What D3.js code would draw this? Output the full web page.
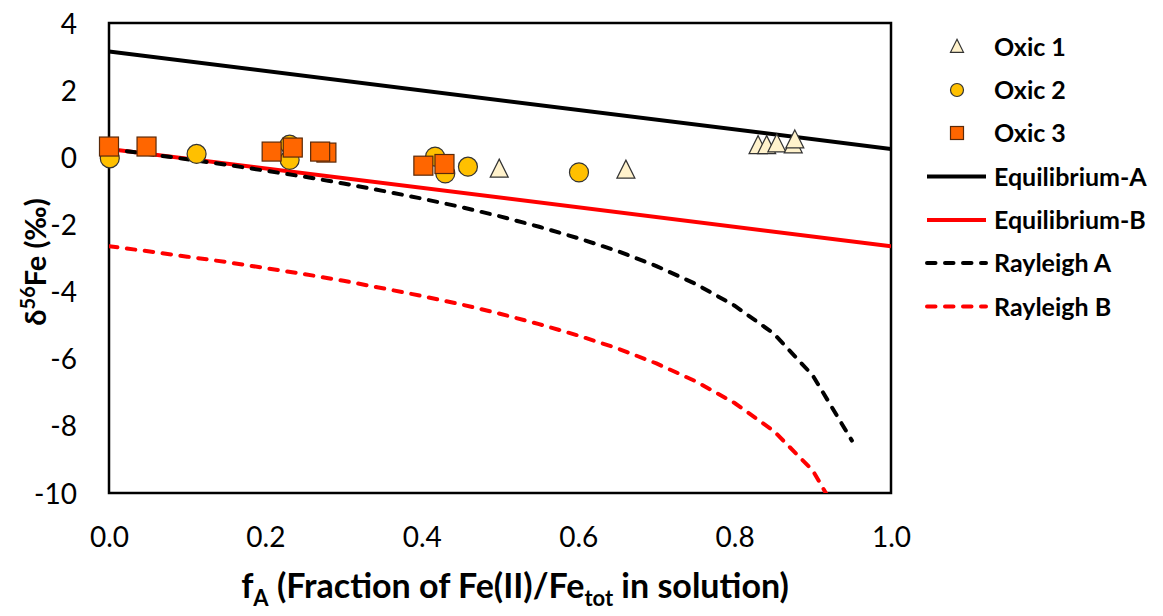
<!DOCTYPE html>
<html><head><meta charset="utf-8">
<script src="https://cdn.jsdelivr.net/npm/d3@7"></script>
<style>body{margin:0;background:#fff}svg{display:block}text{font-family:Lato,"Open Sans",sans-serif}</style>
</head><body>
<script>
// ---- data ----
const xTicks = [0.0, 0.2, 0.4, 0.6, 0.8, 1.0];
const yTicks = [4, 2, 0, -2, -4, -6, -8, -10];

const oxic1X = [0.499, 0.661, 0.830, 0.841, 0.854, 0.875, 0.877];
const oxic1Y = [-0.35, -0.38, 0.35, 0.35, 0.40, 0.37, 0.52];

const oxic2X = [0.001, 0.112, 0.231, 0.231, 0.417, 0.430, 0.459, 0.601];
const oxic2Y = [-0.03, 0.10, 0.38, -0.08, 0.02, -0.48, -0.28, -0.45];

const oxic3X = [0.000, 0.048, 0.208, 0.278, 0.270, 0.235, 0.402, 0.429];
const oxic3Y = [0.32, 0.32, 0.17, 0.14, 0.17, 0.29, -0.25, -0.20];

const eqX = [0, 1];
const eqAY = [3.15, 0.25];
const eqBY = [0.25, -2.65];

const rayX = [0, 0.05, 0.1, 0.15, 0.2, 0.25, 0.3, 0.35, 0.4, 0.45, 0.5, 0.55, 0.6, 0.65, 0.7, 0.75, 0.8, 0.85, 0.9, 0.95];
const rayAY = [0.25, 0.10, -0.06, -0.22, -0.40, -0.58, -0.78, -1.00, -1.23, -1.48, -1.76, -2.07, -2.41, -2.79, -3.24, -3.77, -4.42, -5.25, -6.50, -8.44];
const rayBY = [-2.65, -2.80, -2.96, -3.12, -3.30, -3.48, -3.68, -3.90, -4.13, -4.38, -4.66, -4.97, -5.31, -5.69, -6.14, -6.67, -7.32, -8.15, -9.33, -11.34];

// ---- layout ----
const W = 1163, H = 616;
const L = 109, T = 23, R = 891, B = 493;
const svg = d3.select("body").append("svg").attr("width", W).attr("height", H);

const x = d3.scaleLinear().domain([0, 1]).range([L, R]);
const y = d3.scaleLinear().domain([-10, 4]).range([B, T]);

svg.append("defs").append("clipPath").attr("id", "clip")
  .append("rect").attr("x", L).attr("y", T).attr("width", R - L).attr("height", B - T);

// axes (labels only)
const xAxis = d3.axisBottom(x).tickValues(xTicks).tickFormat(d => d.toFixed(1)).tickSize(0);
const gx = svg.append("g").attr("transform", `translate(0,${B})`).call(xAxis);
gx.select(".domain").remove();
gx.selectAll("text").attr("y", 44).attr("dy", "0.36em").attr("font-size", 28).attr("fill", "#000").style("font-family", "Lato");

const yAxis = d3.axisLeft(y).tickValues(yTicks).tickFormat(d => String(d)).tickSize(0).tickPadding(32);
const gy = svg.append("g").attr("transform", `translate(${L},0)`).call(yAxis);
gy.select(".domain").remove();
gy.selectAll("text").attr("font-size", 28).attr("fill", "#000").attr("dy", "0.36em").style("font-family", "Lato");

// frame
svg.append("rect").attr("x", L).attr("y", T).attr("width", R - L).attr("height", B - T)
  .attr("fill", "none").attr("stroke", "#000").attr("stroke-width", 2.5);

const plot = svg.append("g").attr("clip-path", "url(#clip)");
const line = d3.line().x(d => x(d[0])).y(d => y(d[1]));

function drawLine(xs, ys, color, dashed) {
  plot.append("path").datum(xs.map((v, i) => [v, ys[i]]))
    .attr("d", line).attr("fill", "none").attr("stroke", color).attr("stroke-width", 4)
    .attr("stroke-linecap", dashed ? "round" : "butt")
    .attr("stroke-dasharray", dashed ? "8.5,9.5" : null);
}
drawLine(eqX, eqAY, "#000", false);
drawLine(eqX, eqBY, "#ff0000", false);
drawLine(rayX, rayAY, "#000", true);
drawLine(rayX, rayBY, "#ff0000", true);

const pts = svg.append("g");
function tri(g, cx, cy, size) {
  g.append("path").attr("d", `M${cx},${cy - size * 0.55}L${cx + size * 0.5},${cy + size * 0.45}L${cx - size * 0.5},${cy + size * 0.45}Z`)
    .attr("fill", "#fff2cc").attr("stroke", "#333").attr("stroke-width", 1.2);
}
oxic1X.forEach((v, i) => tri(pts, x(v), y(oxic1Y[i]), 18));
oxic2X.forEach((v, i) => pts.append("circle").attr("cx", x(v)).attr("cy", y(oxic2Y[i])).attr("r", 9.5)
  .attr("fill", "#ffc000").attr("stroke", "#333").attr("stroke-width", 1.2));
oxic3X.forEach((v, i) => pts.append("rect").attr("x", x(v) - 9.5).attr("y", y(oxic3Y[i]) - 9.5)
  .attr("width", 19).attr("height", 19).attr("fill", "#ff6600").attr("stroke", "#5a2a0a").attr("stroke-width", 1.2));

// legend
const lg = svg.append("g");
const legY = [46.5, 90, 133, 176.5, 220, 263, 306.5];
const names = ["Oxic 1", "Oxic 2", "Oxic 3", "Equilibrium-A", "Equilibrium-B", "Rayleigh A", "Rayleigh B"];
tri(lg, 957, legY[0], 13);
lg.append("circle").attr("cx", 957).attr("cy", legY[1]).attr("r", 6.5).attr("fill", "#ffc000").attr("stroke", "#333").attr("stroke-width", 1.2);
lg.append("rect").attr("x", 950.5).attr("y", legY[2] - 6.5).attr("width", 13).attr("height", 13).attr("fill", "#ff6600").attr("stroke", "#5a2a0a").attr("stroke-width", 1.2);
[["#000", false], ["#ff0000", false], ["#000", true], ["#ff0000", true]].forEach((s, i) => {
  lg.append("line").attr("x1", 927).attr("x2", 986).attr("y1", legY[3 + i]).attr("y2", legY[3 + i])
    .attr("stroke", s[0]).attr("stroke-width", 4).attr("stroke-linecap", s[1] ? "round" : "butt")
    .attr("stroke-dasharray", s[1] ? "8.5,9.5" : null);
});
names.forEach((n, i) => lg.append("text").attr("x", 994).attr("y", legY[i]).attr("dy", "0.36em")
  .attr("font-size", 25).attr("font-weight", "bold").text(n));

// axis titles
const xt = svg.append("text").attr("x", 515).attr("y", 598).attr("text-anchor", "middle")
  .attr("font-size", 34).attr("font-weight", "bold");
xt.append("tspan").text("f");
xt.append("tspan").attr("font-size", 22).attr("dy", 8).text("A");
xt.append("tspan").attr("dy", -8).text(" (Fraction of Fe(II)/Fe");
xt.append("tspan").attr("font-size", 22).attr("dy", 8).text("tot");
xt.append("tspan").attr("dy", -8).text(" in solution)");

const yt = svg.append("text").attr("transform", "translate(46,262) rotate(-90)").attr("text-anchor", "middle")
  .attr("font-size", 29).attr("font-weight", "bold");
yt.append("tspan").text("δ");
yt.append("tspan").attr("font-size", 20).attr("dy", -11).text("56");
yt.append("tspan").attr("dy", 11).text("Fe (‰)");
</script>
</body></html>
